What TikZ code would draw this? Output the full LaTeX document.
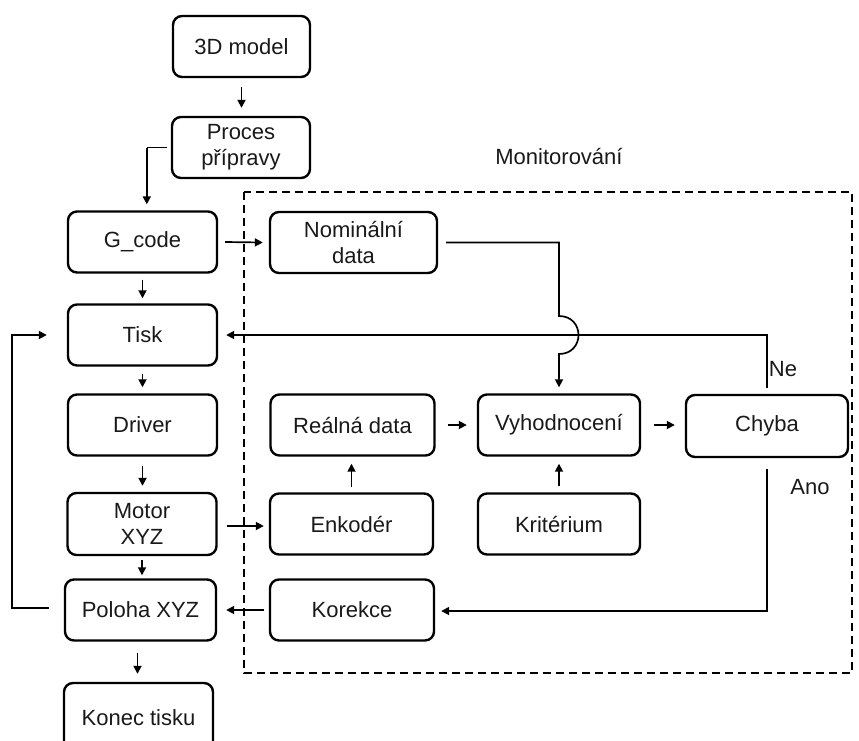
\documentclass[tikz,border=0pt]{standalone}
\usepackage{fontspec}
\setmainfont{Liberation Sans}
\usetikzlibrary{arrows.meta}
\begin{document}
\begin{tikzpicture}[x=1pt,y=-1pt,
  box/.style={draw, line width=2.4pt, rounded corners=9pt, align=center,
    inner sep=0pt, minimum height=61pt, text=black!90,
    font=\fontsize{22}{26}\selectfont},
  lbox/.style={box, minimum width=149pt},
  rbox/.style={box, minimum width=164pt},
  arr/.style={line width=1.7pt, -{Triangle[length=8pt,width=8pt]}},
  conn/.style={line width=1.7pt},
  lbl/.style={font=\fontsize{22}{26}\selectfont, text=black!90}]
\useasboundingbox (0,0) rectangle (859,740);

% monitoring area
\draw[line width=1.8pt, dash pattern=on 8pt off 5pt] (244,192) rectangle (852,673);
\node[lbl] (mon) at (559,157) {Monitorování};

% main process chain
\node[box, minimum width=137pt] (m3d) at (241.5,46.5) {3D model};
\node[box, minimum width=138pt] (prep) at (241,147.5) {Proces\\přípravy};
\node[lbox] (gcode) at (142.5,242) {G\_code};
\node[lbox] (tisk) at (142.5,335) {Tisk};
\node[lbox] (driver) at (142.5,425) {Driver};
\node[lbox, minimum height=62pt] (motor) at (142,524) {Motor\\XYZ};
\node[lbox, minimum width=151pt] (poloha) at (140.5,610) {Poloha XYZ};
\node[lbox, minimum height=70pt] (konec) at (138.5,718) {Konec tisku};

% monitoring blocks
\node[rbox, minimum width=167pt] (nom) at (353.5,242.5) {Nominální\\data};
\node[rbox] (real) at (352.5,425) {Reálná data};
\node[rbox, minimum width=163pt] (enk) at (351.5,524) {Enkodér};
\node[rbox] (kor) at (352,610) {Korekce};
\node[rbox, minimum width=162pt] (vyh) at (559,425) {Vyhodnocení};
\node[rbox, minimum width=162pt] (krit) at (559,524) {Kritérium};
\node[rbox, minimum width=162pt, minimum height=62pt] (chyba) at (767,426) {Chyba};

\node[lbl] (ne) at (783,369) {Ne};
\node[lbl] (ano) at (810,487) {Ano};

% vertical flow on the left
\draw[arr] ([yshift=-9]m3d.south) -- ([yshift=8]m3d.south |- prep.north);
\draw[conn] ([xshift=-4]prep.west) -- ++(-20,0) coordinate (pbend);
\draw[arr] (pbend) -- ([yshift=6]pbend |- gcode.north);
\draw[arr] ([yshift=-6]gcode.south) -- ([yshift=5]gcode.south |- tisk.north);
\draw[arr] ([yshift=-7]tisk.south) -- ([yshift=6]tisk.south |- driver.north);
\draw[arr] ([yshift=-9]driver.south) -- ([yshift=6]driver.south |- motor.north);
\draw[arr] ([yshift=-4]motor.south) -- ([yshift=3]motor.south |- poloha.north);
\draw[arr] ([xshift=-3,yshift=-11]poloha.south) -- ([xshift=-3,yshift=8]poloha.south |- konec.north);

% signals into the monitoring area
\draw[arr] ([xshift=7]gcode.east) -- ([xshift=-6]nom.west);
\draw[arr] ([xshift=9,yshift=-2]motor.east) -- ([xshift=-5,yshift=-2]enk.west);
\draw[arr] ([yshift=5]enk.north) -- ([yshift=-7]enk.north |- real.south);
\draw[arr] ([yshift=6]krit.north) -- ([yshift=-7]krit.north |- vyh.south);
\draw[arr] ([xshift=12]real.east) -- ([xshift=-10]vyh.west);
\draw[arr] ([xshift=13]vyh.east) -- ([xshift=-10]chyba.west |- vyh.east);

% nominal data to evaluation, hopping over the feedback line
\coordinate (nomout) at ([xshift=8]nom.east);
\draw[arr] (nomout) -- (nomout -| vyh.north) coordinate (hop)
  -- (hop |- 0,316) .. controls ([xshift=26]hop |- 0,316) and ([xshift=26]hop |- 0,354) .. (hop |- 0,354)
  -- ([yshift=6]vyh.north);

% "Ne": back to printing
\draw[arr] ([yshift=6]chyba.north) -- (chyba.north |- tisk.east) -- ([xshift=8]tisk.east);

% "Ano": correction of position
\draw[arr] ([yshift=-11]chyba.south) -- (chyba.south |- 0,611) -- ([xshift=6]kor.east |- 0,611);
\draw[arr] ([xshift=-5]kor.west) -- ([xshift=9]poloha.east);

% position feedback to printing
\draw[arr] ([xshift=-15,yshift=2]poloha.west) -- (12,608) -- (12,335) -- ([xshift=-20]tisk.west);
\end{tikzpicture}
\end{document}
